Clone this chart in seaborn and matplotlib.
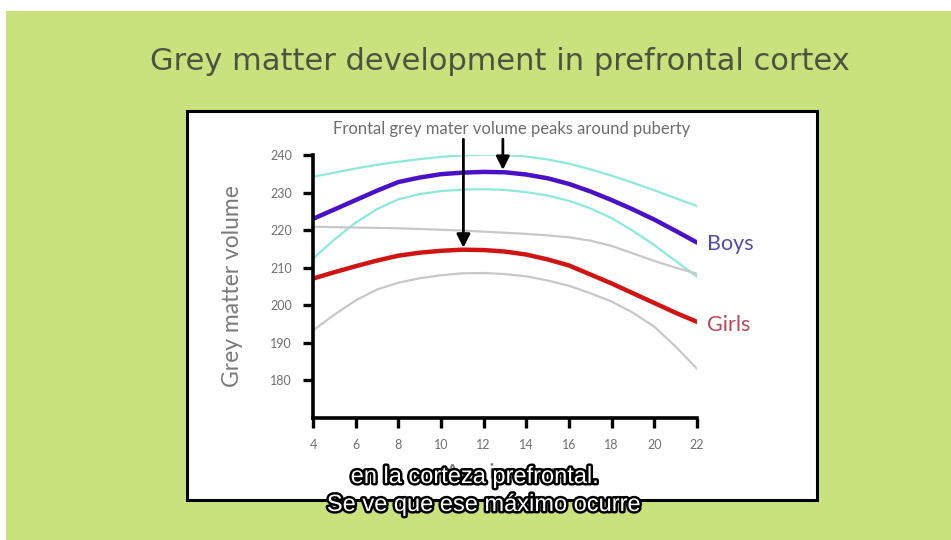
import numpy as np
import pandas as pd
import seaborn as sns
import matplotlib.pyplot as plt
import matplotlib.patheffects as pe
from matplotlib.patches import Rectangle

# values
ages = list(range(4, 23))
boys = [223.0, 225.5, 228.0, 230.5, 232.8, 234.0, 234.9, 235.3, 235.5, 235.4,
        234.8, 233.8, 232.3, 230.3, 228.0, 225.5, 222.8, 219.8, 216.7]
boys_upper = [234.2, 235.3, 236.4, 237.4, 238.2, 238.9, 239.5, 239.9, 240.1, 240.0,
              239.6, 238.8, 237.7, 236.2, 234.5, 232.6, 230.6, 228.5, 226.4]
boys_lower = [212.4, 217.5, 222.0, 225.6, 228.2, 229.6, 230.4, 230.8, 230.9, 230.7,
              230.1, 229.2, 227.8, 225.8, 223.2, 219.8, 216.0, 211.8, 207.6]
girls = [207.1, 208.8, 210.4, 211.9, 213.2, 214.0, 214.5, 214.8, 214.7, 214.3,
         213.5, 212.2, 210.6, 208.2, 205.8, 203.2, 200.6, 198.0, 195.6]
girls_upper = [220.9, 220.8, 220.7, 220.6, 220.5, 220.3, 220.1, 219.9, 219.6, 219.3,
               219.0, 218.6, 218.1, 217.2, 215.8, 213.8, 211.8, 210.0, 208.4]
girls_lower = [193.3, 197.5, 201.3, 204.2, 206.0, 207.2, 208.0, 208.5, 208.6, 208.3,
               207.7, 206.6, 205.2, 203.2, 201.0, 198.0, 194.3, 189.0, 183.1]

x_ticks = [4, 6, 8, 10, 12, 14, 16, 18, 20, 22]
y_ticks = [180, 190, 200, 210, 220, 230, 240]
peak_girls = (11.05, 215.3)
peak_boys = (12.9, 236.0)

title = "Grey matter development in prefrontal cortex"
note = "Frontal grey mater volume peaks around puberty"
subs = ["en la corteza prefrontal.", "Se ve que ese máximo ocurre"]

sns.set_style("white")
plt.rcParams['font.family'] = ['Lato', 'DejaVu Sans']

green = '#c9e27d'
fig = plt.figure(figsize=(9.51, 5.40), dpi=100)
fig.patch.set_facecolor(green)

# white strips of the screenshot edges
fig.patches.append(Rectangle((0, 1 - 11 / 540), 1, 11 / 540, transform=fig.transFigure,
                             facecolor='white', edgecolor='none', zorder=-10))
fig.patches.append(Rectangle((0, 0), 6 / 951, 1, transform=fig.transFigure,
                             facecolor='white', edgecolor='none', zorder=-10))
# white slide box
fig.patches.append(Rectangle((187 / 951, 1 - 500 / 540), 630 / 951, 389 / 540,
                             transform=fig.transFigure, facecolor='white',
                             edgecolor='black', linewidth=2.2, zorder=-10))

fig.text(500 / 951, 1 - 62 / 540, title, ha='center', va='center',
         fontsize=22, color='#4b5440', family='DejaVu Sans')

ax = fig.add_axes([313 / 951, 1 - 418 / 540, 384 / 951, 263 / 540])
ax.set_facecolor('none')

bands = [(boys_upper, '#8ee8dc', 1.6), (boys_lower, '#8ee8dc', 1.6),
         (girls_upper, '#c8c8c8', 1.6), (girls_lower, '#c8c8c8', 1.6),
         (boys, '#4a12c8', 3.2), (girls, '#d01414', 3.2)]
for vals, col, lw in bands:
    sns.lineplot(x=ages, y=vals, color=col, linewidth=lw, ax=ax)

ax.set_xlim(4, 22)
ax.set_ylim(170, 240)
ax.set_xticks(x_ticks)
ax.set_yticks(y_ticks)
ax.tick_params(axis='both', direction='out', length=7, width=2.4, color='black',
               labelsize=9, labelcolor='#707070', pad=8, left=True, bottom=True)
for s in ['top', 'right']:
    ax.spines[s].set_visible(False)
for s in ['left', 'bottom']:
    ax.spines[s].set_linewidth(2.6)
    ax.spines[s].set_color('black')

ax.set_ylabel("Grey matter volume", fontsize=16.5, color='#7a7a7a', labelpad=20)
ax.set_xlabel("Age in years", fontsize=16, color='#7a7a7a', labelpad=9)

for pt in (peak_girls, peak_boys):
    ax.annotate('', xy=pt, xytext=(pt[0], 244.2), annotation_clip=False,
                arrowprops=dict(arrowstyle='-|>', color='black', lw=2.0,
                                mutation_scale=20, shrinkA=0, shrinkB=0))
ax.text(13.3, 246.8, note, ha='center', va='center', fontsize=12,
        color='#6e6e6e', clip_on=False)

ax.text(22.45, boys[-1] - 0.3, "Boys", ha='left', va='center', fontsize=15.5,
        color='#5a48a8', clip_on=False)
ax.text(22.45, girls[-1] - 0.8, "Girls", ha='left', va='center', fontsize=15.5,
        color='#b8485a', clip_on=False)

outline = [pe.withStroke(linewidth=3.5, foreground='black')]
fig.text(475 / 951, 1 - 477 / 540, subs[0], ha='center', va='center', fontsize=17,
         color='white', family='Liberation Sans', path_effects=outline, zorder=10)
fig.text(484 / 951, 1 - 505 / 540, subs[1], ha='center', va='center', fontsize=17,
         color='white', family='Liberation Sans', path_effects=outline, zorder=10)

fig.savefig('out.png', dpi=100, facecolor=fig.get_facecolor())
